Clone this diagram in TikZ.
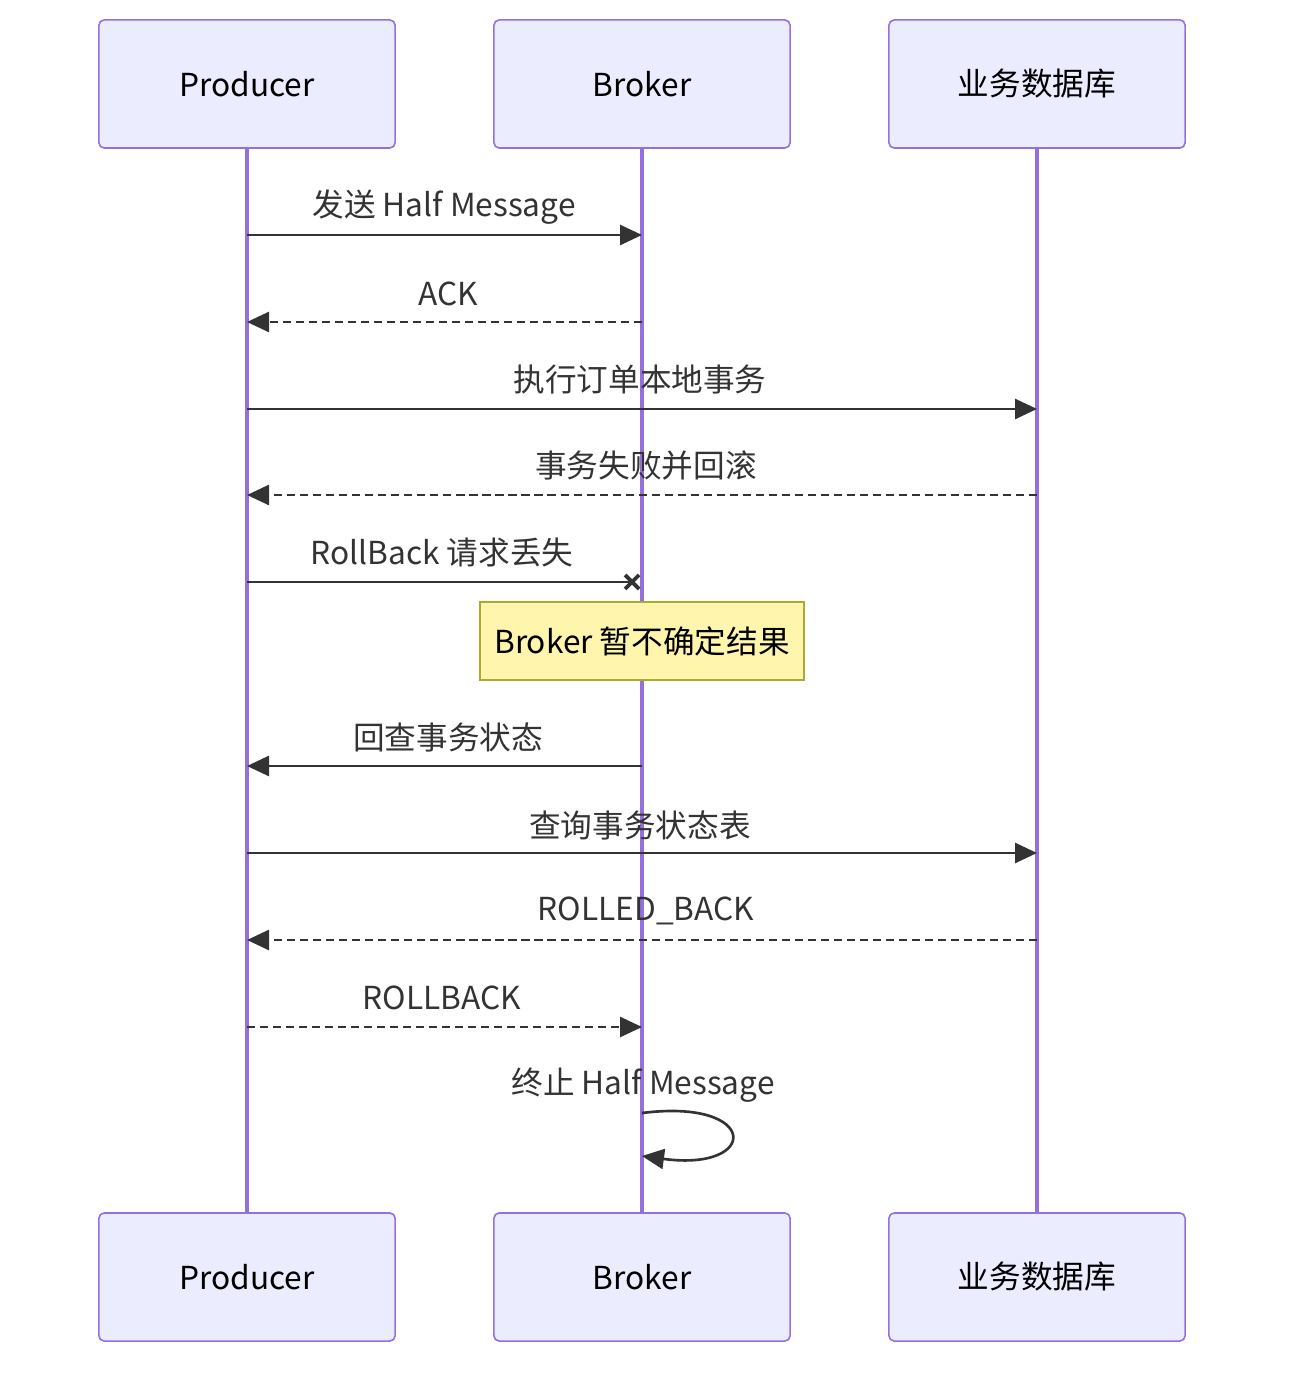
\documentclass[tikz,border=0pt]{standalone}
\usepackage{fontspec}
\setmainfont{Noto Sans CJK SC}
\usepackage{xcolor}
\usepackage{tikz}
\usetikzlibrary{arrows.meta}
\definecolor{actorfill}{HTML}{ECECFF}
\definecolor{actorline}{HTML}{9370DB}
\definecolor{msgcol}{HTML}{333333}
\definecolor{notefill}{HTML}{FFF5AD}
\definecolor{noteline}{HTML}{AAAA33}

\begin{document}
\begin{tikzpicture}[x=0.01cm,y=-0.01cm,
    actor/.style={draw=actorline,fill=actorfill,line width=0.45pt,rounded corners=1.5pt,
        minimum width=2.96cm,minimum height=1.28cm,font=\fontsize{9}{11}\selectfont},
    lifeline/.style={draw=actorline,line width=0.9pt},
    msg/.style={draw=msgcol,line width=0.75pt,-{Triangle[length=0.22cm,width=0.2cm]}},
    reply/.style={msg,dash pattern=on 2.3pt off 1.4pt},
    lost/.style={draw=msgcol,line width=0.75pt},
    notebox/.style={draw=noteline,fill=notefill,line width=0.45pt,
        minimum width=3.24cm,minimum height=0.78cm,font=\fontsize{9}{11}\selectfont},
    lbl/.style={font=\fontsize{9}{11}\selectfont,text=msgcol,inner sep=0pt}]
    \useasboundingbox (0,0) rectangle (1300,1380);

    % actors
    \node[actor] (prodTop)   at ( 247,84) {Producer};
    \node[actor] (brokerTop) at ( 642,84) {Broker};
    \node[actor] (dbTop)     at (1037,84) {业务数据库};

    \node[actor] (prodBot)   at ( 247,1277) {Producer};
    \node[actor] (brokerBot) at ( 642,1277) {Broker};
    \node[actor] (dbBot)     at (1037,1277) {业务数据库};

    \draw[lifeline] (prodTop) -- (prodBot);
    \draw[lifeline] (brokerTop) -- (brokerBot);
    \draw[lifeline] (dbTop) -- (dbBot);

    % message ends
    \coordinate (p1) at (247,235);  \coordinate (b1) at (642,235);
    \coordinate (p2) at (247,322);  \coordinate (b2) at (642,322);
    \coordinate (p3) at (247,409);  \coordinate (d3) at (1037,409);
    \coordinate (p4) at (247,495);  \coordinate (d4) at (1037,495);
    \coordinate (p5) at (247,582);  \coordinate (x5) at (632,582);
    \coordinate (p7) at (247,766);  \coordinate (b7) at (642,766);
    \coordinate (p8) at (247,853);  \coordinate (d8) at (1037,853);
    \coordinate (p9) at (247,940);  \coordinate (d9) at (1037,940);
    \coordinate (p10) at (247,1027); \coordinate (b10) at (642,1027);
    \coordinate (s1) at (642,1113); \coordinate (s2) at (642,1156);

    \draw[msg]   (p1) -- (b1);
    \draw[reply] (b2) -- (p2);
    \draw[msg]   (p3) -- (d3);
    \draw[reply] (d4) -- (p4);
    \draw[lost]  (p5) -- (x5);
    \draw[lost,line width=1.1pt] ([shift={(-7,-7)}]x5) -- ([shift={(7,7)}]x5)
                                 ([shift={(-7,7)}]x5) -- ([shift={(7,-7)}]x5);
    \draw[msg]   (b7) -- (p7);
    \draw[msg]   (p8) -- (d8);
    \draw[reply] (d9) -- (p9);
    \draw[reply] (p10) -- (b10);
    \draw[msg]   (s1) .. controls (760,1098) and (760,1172) .. (s2);

    % labels
    \node[lbl] (l1)  at (444,207)  {发送 Half Message};
    \node[lbl] (l2)  at (448,294)  {ACK};
    \node[lbl] (l3)  at (640,380)  {执行订单本地事务};
    \node[lbl] (l4)  at (646,466)  {事务失败并回滚};
    \node[lbl] (l5)  at (442,553)  {RollBack 请求丢失};
    \node[lbl] (l7)  at (448,737)  {回查事务状态};
    \node[lbl] (l8)  at (640,825)  {查询事务状态表};
    \node[lbl] (l9)  at (646,911)  {ROLLED\_BACK};
    \node[lbl] (l10) at (442,998)  {ROLLBACK};
    \node[lbl] (l11) at (643,1085) {终止 Half Message};

    % note
    \node[notebox] (note) at (642,641) {Broker 暂不确定结果};
\end{tikzpicture}
\end{document}
